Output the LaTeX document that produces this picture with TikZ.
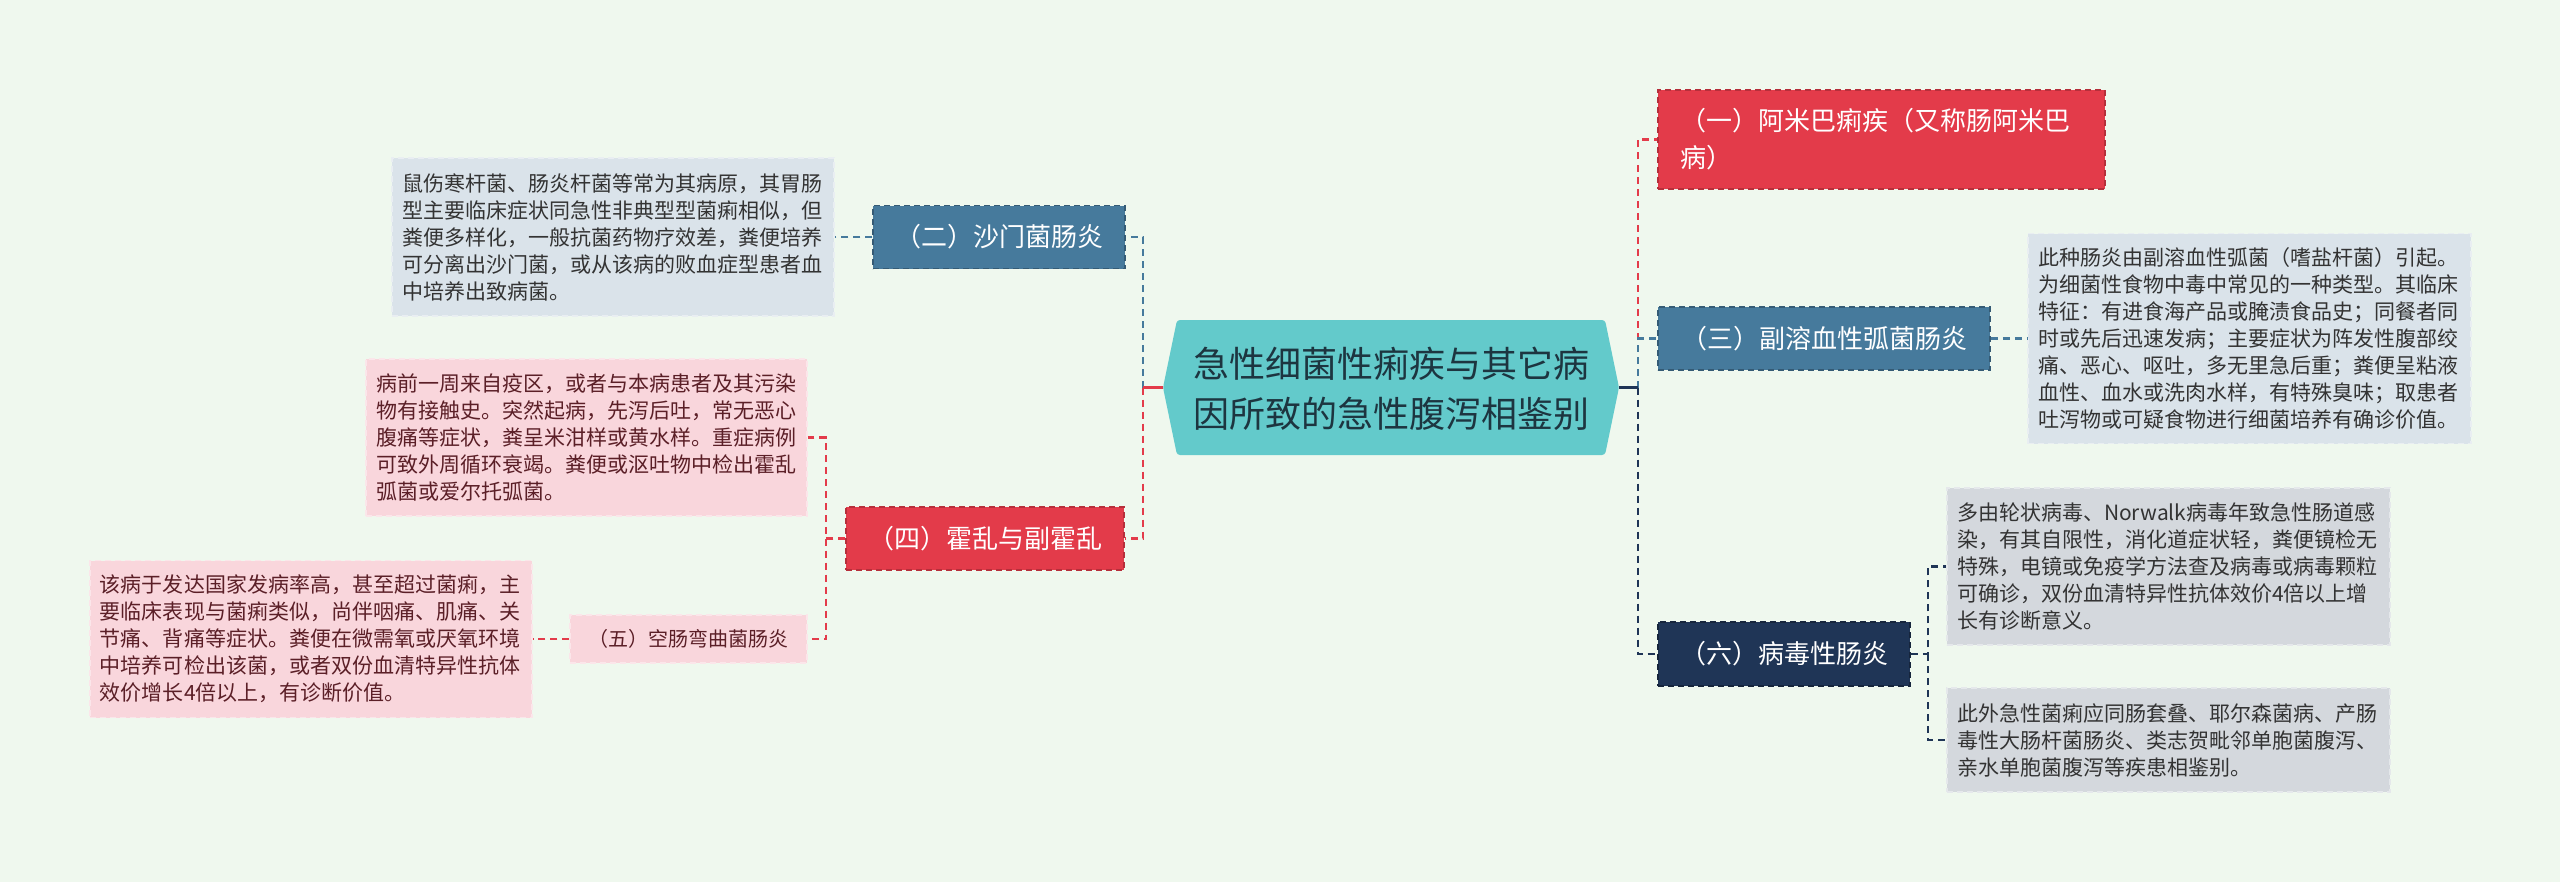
\documentclass[tikz,border=0pt]{standalone}
\usepackage{fontspec}
\setmainfont{Noto Sans CJK SC}
\usetikzlibrary{calc}
\definecolor{bg}{HTML}{EFF8EE}
\definecolor{cred}{HTML}{E33B4A}
\definecolor{cblue}{HTML}{467A9C}
\definecolor{cnavy}{HTML}{1F3556}
\definecolor{cteal}{HTML}{63CACB}
\definecolor{cdblue}{HTML}{DAE3EA}
\definecolor{cdgray}{HTML}{D4D8DD}
\definecolor{cpink}{HTML}{F9D6DC}
\definecolor{tdark}{HTML}{333333}
\definecolor{tmaroon}{HTML}{5B1F27}
\definecolor{troot}{HTML}{1D3540}
\tikzset{
  link/.style={line width=2.2bp, dash pattern=on 7bp off 5bp},
  stub/.style={line width=2.5bp},
  tbox/.style={inner xsep=0bp, inner ysep=0bp, font=\fontsize{26bp}{37bp}\selectfont,
    text=white, line width=1.5bp, dash pattern=on 6bp off 4bp, align=center},
  dbox/.style={font=\fontsize{21bp}{27bp}\selectfont, align=left, inner xsep=10bp,
    inner ysep=0bp, line width=1.5bp, dash pattern=on 6bp off 4bp, text=tdark},
}
\begin{document}
\begin{tikzpicture}[x=1bp,y=-1bp]
\fill[bg] (0,0) rectangle (2560,882);
\useasboundingbox (0,0) rectangle (2560,882);

% root
\coordinate (rootL) at (1163,387.5);
\coordinate (rootR) at (1619,387.5);
\coordinate (jL) at (1143,387.5);
\coordinate (jR) at (1638,387.5);
\fill[cteal, rounded corners=3bp] (rootL) -- (1177,320) -- (1605,320) -- (rootR) -- (1605,455) -- (1177,455) -- cycle;
\node[font=\fontsize{36bp}{50bp}\selectfont, text=troot, align=center, inner sep=0pt] (root) at (1391,389) {急性细菌性痢疾与其它病\\因所致的急性腹泻相鉴别};

% right side
\node[tbox, fill=cred, draw=cred!80!black, minimum width=447bp, minimum height=99bp,
  text width=403bp, align=left] (n1) at (1881.5,139.5) {（一）阿米巴痢疾（又称肠阿米巴\\病）};
\node[tbox, fill=cblue, draw=cblue!75!black, minimum width=332bp, minimum height=63bp] (n3) at (1824,338.5) {（三）副溶血性弧菌肠炎};
\node[dbox, fill=cdblue, draw=cdblue!60!white, text width=423bp, minimum height=210bp] (d3) at (2249.5,338.5) {此种肠炎由副溶血性弧菌（嗜盐杆菌）引起。\\为细菌性食物中毒中常见的一种类型。其临床\\特征：有进食海产品或腌渍食品史；同餐者同\\时或先后迅速发病；主要症状为阵发性腹部绞\\痛、恶心、呕吐，多无里急后重；粪便呈粘液\\血性、血水或洗肉水样，有特殊臭味；取患者\\吐泻物或可疑食物进行细菌培养有确诊价值。};
\node[tbox, fill=cnavy, draw=cnavy!70!black, minimum width=252bp, minimum height=64bp] (n6) at (1784,654) {（六）病毒性肠炎};
\node[dbox, fill=cdgray, draw=cdgray!60!white, text width=423bp, minimum height=157bp] (d6a) at (2168.5,566.5) {多由轮状病毒、Norwalk病毒年致急性肠道感\\染，有其自限性，消化道症状轻，粪便镜检无\\特殊，电镜或免疫学方法查及病毒或病毒颗粒\\可确诊，双份血清特异性抗体效价4倍以上增\\长有诊断意义。};
\node[dbox, fill=cdgray, draw=cdgray!60!white, text width=423bp, minimum height=104bp] (d6b) at (2168.5,740) {此外急性菌痢应同肠套叠、耶尔森菌病、产肠\\毒性大肠杆菌肠炎、类志贺毗邻单胞菌腹泻、\\亲水单胞菌腹泻等疾患相鉴别。};

% left side
\node[tbox, fill=cblue, draw=cblue!75!black, minimum width=252bp, minimum height=63bp] (n2) at (999,237) {（二）沙门菌肠炎};
\node[dbox, fill=cdblue, draw=cdblue!60!white, text width=422bp, minimum height=158bp] (d2) at (613,237) {鼠伤寒杆菌、肠炎杆菌等常为其病原，其胃肠\\型主要临床症状同急性非典型型菌痢相似，但\\粪便多样化，一般抗菌药物疗效差，粪便培养\\可分离出沙门菌，或从该病的败血症型患者血\\中培养出致病菌。};
\node[tbox, fill=cred, draw=cred!80!black, minimum width=278bp, minimum height=63bp] (n4) at (985,538.5) {（四）霍乱与副霍乱};
\node[dbox, fill=cpink, draw=cpink!60!white, text=tmaroon, text width=421bp, minimum height=157bp] (d4) at (586.5,437.5) {病前一周来自疫区，或者与本病患者及其污染\\物有接触史。突然起病，先泻后吐，常无恶心\\腹痛等症状，粪呈米泔样或黄水样。重症病例\\可致外周循环衰竭。粪便或沤吐物中检出霍乱\\弧菌或爱尔托弧菌。};
\node[tbox, fill=cpink, draw=cpink!60!white, text=tmaroon, font=\fontsize{20bp}{26bp}\selectfont, minimum width=237bp, minimum height=48bp] (n5) at (688.5,639) {（五）空肠弯曲菌肠炎};
\node[dbox, fill=cpink, draw=cpink!60!white, text=tmaroon, text width=422bp, minimum height=157bp] (d5) at (311,639) {该病于发达国家发病率高，甚至超过菌痢，主\\要临床表现与菌痢类似，尚伴咽痛、肌痛、关\\节痛、背痛等症状。粪便在微需氧或厌氧环境\\中培养可检出该菌，或者双份血清特异性抗体\\效价增长4倍以上，有诊断价值。};

\coordinate (j4) at (826,538.5);
\coordinate (j6) at (1928,654);

% connectors right
\draw[link, cred] (jR) |- (n1.west);
\draw[link, cblue] (jR) |- (n3.west);
\draw[link, cnavy] (jR) |- (n6.west);
\draw[stub, cnavy] (rootR) -- (jR);
\draw[link, cblue] (n3.east) -- (d3.west);
\draw[link, cnavy] (n6.east) -- (j6) |- (d6a.west);
\draw[link, cnavy] (j6) |- (d6b.west);

% connectors left
\draw[link, cblue] (jL) |- (n2.east);
\draw[link, cred] (jL) |- (n4.east);
\draw[stub, cred] (rootL) -- (jL);
\draw[link, cblue] (n2.west) -- (d2.east);
\draw[link, cred] (n4.west) -- (j4) |- (d4.east);
\draw[link, cred] (j4) |- (n5.east);
\draw[link, cred] (n5.west) -- (d5.east);
\end{tikzpicture}
\end{document}
